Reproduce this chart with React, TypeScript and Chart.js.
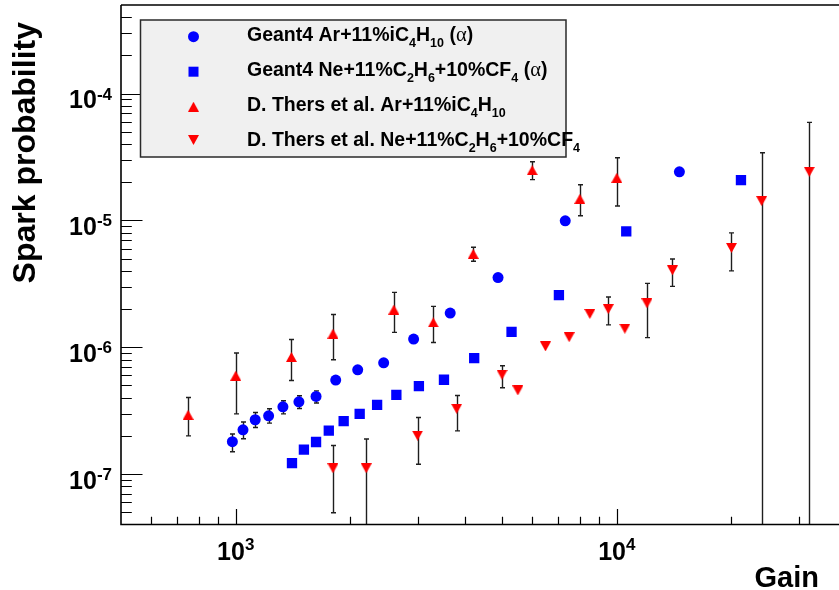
import React, { useEffect, useRef } from "react";
import { Chart, registerables } from "chart.js";

Chart.register(...registerables);

// ---------------- data ----------------
const geantArGain = [980, 1045, 1125, 1220, 1330, 1465, 1625, 1830, 2090, 2445, 2930, 3655, 4880, 7325, 14600];
const geantArProb = [1.8e-7, 2.23e-7, 2.68e-7, 2.88e-7, 3.39e-7, 3.71e-7, 4.09e-7, 5.51e-7, 6.64e-7, 7.54e-7, 1.16e-6, 1.86e-6, 3.54e-6, 9.93e-6, 2.42e-5];
const geantArLow = [1.5e-7, 1.9e-7, 2.33e-7, 2.52e-7, 2.98e-7, 3.29e-7, 3.63e-7, null, null, null, null, null, null, null, null];
const geantArHigh = [2.07e-7, 2.57e-7, 3.06e-7, 3.27e-7, 3.78e-7, 4.14e-7, 4.53e-7, null, null, null, null, null, null, null, null];

const geantNeGain = [1405, 1510, 1625, 1755, 1920, 2115, 2350, 2640, 3025, 3520, 4225, 5295, 7050, 10590, 21180];
const geantNeProb = [1.22e-7, 1.56e-7, 1.79e-7, 2.2e-7, 2.61e-7, 2.98e-7, 3.51e-7, 4.21e-7, 4.94e-7, 5.54e-7, 8.21e-7, 1.32e-6, 2.58e-6, 8.21e-6, 2.08e-5];

const thersArGain = [750, 1000, 1400, 1800, 2600, 3300, 4200, 6000, 8000, 10000];
const thersArProb = [2.93e-7, 5.96e-7, 8.37e-7, 1.28e-6, 1.98e-6, 1.57e-6, 5.45e-6, 2.49e-5, 1.48e-5, 2.17e-5];
const thersArLow = [2.0e-7, 2.98e-7, 5.47e-7, 7.96e-7, 1.31e-6, 1.09e-6, 4.76e-6, 2.1e-5, 1.09e-5, 1.3e-5];
const thersArHigh = [4.01e-7, 9.0e-7, 1.15e-6, 1.81e-6, 2.71e-6, 2.1e-6, 6.14e-6, 2.9e-5, 1.91e-5, 3.12e-5];

const thersNeGain = [1800, 2200, 3000, 3800, 5000, 5500, 6500, 7500, 8500, 9500, 10500, 12000, 14000, 20000, 24000, 32000];
const thersNeProb = [1.11e-7, 1.11e-7, 2.01e-7, 3.27e-7, 6.07e-7, 4.56e-7, 1.015e-6, 1.2e-6, 1.83e-6, 2.0e-6, 1.4e-6, 2.22e-6, 4.04e-6, 6.07e-6, 1.42e-5, 2.42e-5];
const thersNeLow = [4.95e-8, 0, 1.195e-7, 2.19e-7, 4.79e-7, null, null, null, null, 1.5e-6, null, 1.19e-6, 3.02e-6, 4.0e-6, 0, 0];
const thersNeHigh = [1.68e-7, 1.89e-7, 2.79e-7, 4.16e-7, 7.14e-7, null, null, null, null, 2.49e-6, null, 3.19e-6, 4.97e-6, 7.98e-6, 3.42e-5, 5.93e-5];

const seriesLabels = [
  "Geant4 Ar+11%iC_{4}H_{10} (α)",
  "Geant4 Ne+11%C_{2}H_{6}+10%CF_{4} (α)",
  "D. Thers et al. Ar+11%iC_{4}H_{10}",
  "D. Thers et al. Ne+11%C_{2}H_{6}+10%CF_{4}",
];

const xMin = 500;
const xMax = 38300;
const yMin = 4e-8;
const yMax = 5e-4;
const xLabelPowers = [3, 4];
const yLabelPowers = [-7, -6, -5, -4];
const xTitle = "Gain";
const yTitle = "Spark probability";

// ---------------- styling ----------------
const FONT = '"Liberation Sans", Arial, Helvetica, sans-serif';
const BLUE = "#0000ff";
const RED = "#ff0000";

function makeTriangle(up: boolean): HTMLCanvasElement {
  const c = document.createElement("canvas");
  c.width = 11;
  c.height = 10;
  const g = c.getContext("2d")!;
  g.fillStyle = RED;
  g.beginPath();
  if (up) {
    g.moveTo(0, 10);
    g.lineTo(11, 10);
    g.lineTo(5.5, 0);
  } else {
    g.moveTo(0, 0);
    g.lineTo(11, 0);
    g.lineTo(5.5, 10);
  }
  g.closePath();
  g.fill();
  return c;
}

type Part = { text: string; sub: boolean };
function parseRich(s: string): Part[] {
  const out: Part[] = [];
  const re = /_\{([^}]*)\}/g;
  let last = 0;
  let m: RegExpExecArray | null;
  while ((m = re.exec(s))) {
    if (m.index > last) out.push({ text: s.slice(last, m.index), sub: false });
    out.push({ text: m[1], sub: true });
    last = re.lastIndex;
  }
  if (last < s.length) out.push({ text: s.slice(last), sub: false });
  return out;
}

function drawRich(ctx: CanvasRenderingContext2D, s: string, x: number, base: number) {
  let cx = x;
  for (const p of parseRich(s)) {
    const size = p.sub ? 12.5 : 19.5;
    const y = p.sub ? base + 6 : base;
    const chunks = p.text.split(/(α)/);
    for (const ch of chunks) {
      if (!ch) continue;
      if (ch === "α") ctx.font = `${size + 1}px "Liberation Serif", serif`;
      else ctx.font = `bold ${size}px ${FONT}`;
      ctx.fillText(ch, cx, y);
      cx += ctx.measureText(ch).width;
    }
  }
}

export default function App() {
  const ref = useRef<HTMLCanvasElement | null>(null);

  useEffect(() => {
    if (!ref.current) return;
    const triUp = makeTriangle(true);
    const triDown = makeTriangle(false);

    const errors: Array<{ low: (number | null)[]; high: (number | null)[]; gain: number[] } | null> = [
      { low: geantArLow, high: geantArHigh, gain: geantArGain },
      null,
      { low: thersArLow, high: thersArHigh, gain: thersArGain },
      { low: thersNeLow, high: thersNeHigh, gain: thersNeGain },
    ];

    const errorBars = {
      id: "errorBars",
      beforeDatasetsDraw(chart: any) {
        const { ctx, chartArea: a, scales } = chart;
        const xs = scales.x;
        const ys = scales.y;
        ctx.save();
        ctx.beginPath();
        ctx.rect(a.left, a.top, a.right - a.left, a.bottom - a.top);
        ctx.clip();
        ctx.strokeStyle = "#1e1e1e";
        ctx.lineWidth = 1.4;
        errors.forEach((e) => {
          if (!e) return;
          e.gain.forEach((g, j) => {
            const hi = e.high[j];
            const lo = e.low[j];
            if (hi == null || lo == null) return;
            const px = Math.round(xs.getPixelForValue(g)) + 0.5;
            const yT = ys.getPixelForValue(hi);
            const yB = lo > 0 ? ys.getPixelForValue(lo) : a.bottom + 10;
            ctx.beginPath();
            ctx.moveTo(px, yT);
            ctx.lineTo(px, yB);
            ctx.moveTo(px - 2.5, yT);
            ctx.lineTo(px + 2.5, yT);
            if (lo > 0) {
              ctx.moveTo(px - 2.5, yB);
              ctx.lineTo(px + 2.5, yB);
            }
            ctx.stroke();
          });
        });
        ctx.restore();
      },
    };

    const axesAndLegend = {
      id: "rootAxes",
      afterDraw(chart: any) {
        const { ctx, chartArea: a, scales } = chart;
        const xs = scales.x;
        const ys = scales.y;
        ctx.save();
        ctx.strokeStyle = "#000";
        ctx.fillStyle = "#000";
        // frame
        ctx.lineWidth = 1.6;
        ctx.beginPath();
        ctx.moveTo(a.left, a.top);
        ctx.lineTo(a.right + 2, a.top);
        ctx.moveTo(a.left, a.top);
        ctx.lineTo(a.left, a.bottom);
        ctx.lineTo(a.right + 2, a.bottom);
        ctx.stroke();

        // ticks
        ctx.lineWidth = 1.2;
        ctx.beginPath();
        for (let e = -9; e <= -3; e++) {
          for (let k = 1; k <= 9; k++) {
            const v = k * Math.pow(10, e);
            if (v <= yMin * 1.0001 || v >= yMax * 0.9999) continue;
            const py = Math.round(ys.getPixelForValue(v)) + 0.5;
            const len = k === 1 ? 21.5 : 10.8;
            ctx.moveTo(a.left, py);
            ctx.lineTo(a.left + len, py);
          }
        }
        for (let e = 2; e <= 5; e++) {
          for (let k = 1; k <= 9; k++) {
            const v = k * Math.pow(10, e);
            if (v <= xMin * 1.0001 || v >= xMax * 0.9999) continue;
            const px = Math.round(xs.getPixelForValue(v)) + 0.5;
            const len = k === 1 ? 15.6 : 7.8;
            ctx.moveTo(px, a.bottom);
            ctx.lineTo(px, a.bottom - len);
          }
        }
        ctx.stroke();

        // tick labels
        ctx.textBaseline = "alphabetic";
        ctx.textAlign = "left";
        yLabelPowers.forEach((p) => {
          const py = ys.getPixelForValue(Math.pow(10, p));
          ctx.font = `bold 25px ${FONT}`;
          const w1 = ctx.measureText("10").width;
          const sup = String(p);
          ctx.font = `bold 17px ${FONT}`;
          const w2 = ctx.measureText(sup).width;
          const x0 = 112 - w1 - w2;
          ctx.font = `bold 25px ${FONT}`;
          ctx.fillText("10", x0, py + 14.5);
          ctx.font = `bold 17px ${FONT}`;
          ctx.fillText(sup, x0 + w1, py + 6);
        });
        xLabelPowers.forEach((p) => {
          const px = xs.getPixelForValue(Math.pow(10, p));
          ctx.font = `bold 25px ${FONT}`;
          const w1 = ctx.measureText("10").width;
          const sup = String(p);
          ctx.font = `bold 17px ${FONT}`;
          const w2 = ctx.measureText(sup).width;
          const x0 = px - (w1 + w2) / 2;
          ctx.font = `bold 25px ${FONT}`;
          ctx.fillText("10", x0, a.bottom + 35.5);
          ctx.font = `bold 17px ${FONT}`;
          ctx.fillText(sup, x0 + w1, a.bottom + 25.5);
        });

        // titles
        ctx.font = `bold 29px ${FONT}`;
        ctx.textAlign = "right";
        ctx.fillText(xTitle, 819, 587);
        ctx.save();
        ctx.translate(35, 22);
        ctx.rotate(-Math.PI / 2);
        ctx.font = `bold 32px ${FONT}`;
        ctx.textAlign = "right";
        ctx.fillText(yTitle, 0, 0);
        ctx.restore();

        // legend
        const L = 140.5, T = 20, R = 566, B = 157;
        ctx.fillStyle = "#f0f0f0";
        ctx.fillRect(L, T, R - L, B - T);
        ctx.strokeStyle = "#2a2a2a";
        ctx.lineWidth = 1.5;
        ctx.strokeRect(L, T, R - L, B - T);

        const mx = 193.5;
        const rowY = [36.7, 71.7, 106.7, 140];
        const base = [40.7, 76, 111, 145.7];
        // circle
        ctx.fillStyle = BLUE;
        ctx.beginPath();
        ctx.arc(mx, rowY[0], 5.5, 0, Math.PI * 2);
        ctx.fill();
        // square
        ctx.fillRect(mx - 5, rowY[1] - 5, 10, 10);
        // triangles
        ctx.drawImage(triUp, mx - 5.5, rowY[2] - 5);
        ctx.drawImage(triDown, mx - 5.5, rowY[3] - 5);

        ctx.fillStyle = "#000";
        ctx.textAlign = "left";
        seriesLabels.forEach((s, i) => drawRich(ctx, s, 247, base[i]));
        ctx.restore();
      },
    };

    const pts = (g: number[], p: number[]) => g.map((x, i) => ({ x, y: p[i] }));

    const chart = new Chart(ref.current, {
      type: "scatter",
      data: {
        datasets: [
          {
            label: seriesLabels[0],
            data: pts(geantArGain, geantArProb),
            pointStyle: "circle",
            pointRadius: 5.5,
            backgroundColor: BLUE,
            borderWidth: 0,
          },
          {
            label: seriesLabels[1],
            data: pts(geantNeGain, geantNeProb),
            pointStyle: "rect",
            pointRadius: 7.3,
            backgroundColor: BLUE,
            borderWidth: 0,
          },
          {
            label: seriesLabels[2],
            data: pts(thersArGain, thersArProb),
            pointStyle: triUp as any,
            pointRadius: 5,
            backgroundColor: RED,
            borderWidth: 0,
          },
          {
            label: seriesLabels[3],
            data: pts(thersNeGain, thersNeProb),
            pointStyle: triDown as any,
            pointRadius: 5,
            backgroundColor: RED,
            borderWidth: 0,
          },
        ],
      },
      options: {
        animation: false,
        responsive: false,
        maintainAspectRatio: false,
        devicePixelRatio: 1,
        events: [],
        layout: { autoPadding: false, padding: { left: 121, right: 0, top: 5, bottom: 65.5 } },
        plugins: { legend: { display: false }, tooltip: { enabled: false } },
        scales: {
          x: { type: "logarithmic", min: xMin, max: xMax, display: false, bounds: "data" },
          y: { type: "logarithmic", min: yMin, max: yMax, display: false, bounds: "data" },
        },
      },
      plugins: [errorBars, axesAndLegend],
    });
    return () => chart.destroy();
  }, []);

  return (
    <div style={{ position: "absolute", left: 0, top: 0, width: 839, height: 590, background: "#fff" }}>
      <canvas ref={ref} width={839} height={590} style={{ display: "block" }} />
    </div>
  );
}
